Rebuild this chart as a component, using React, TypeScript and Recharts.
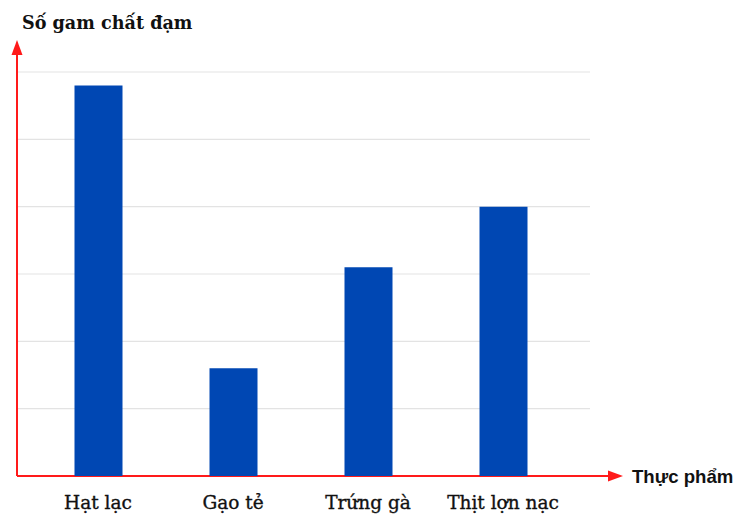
import React from 'react';
import { BarChart, Bar, XAxis, YAxis, CartesianGrid, usePlotArea } from 'recharts';

const categories = ['Hạt lạc', 'Gạo tẻ', 'Trứng gà', 'Thịt lợn nạc'];
const proteinGrams = [29, 8, 15.5, 20];
const yTicks = [0, 5, 10, 15, 20, 25, 30];
const yTitle = 'Số gam chất đạm';
const xTitle = 'Thực phẩm';

const data = categories.map((name, i) => ({ name, value: proteinGrams[i] }));

const RED = '#ff1a1a';

function Axes() {
  const plot = usePlotArea();
  if (!plot) return null;
  const left = plot.x;
  const bottom = plot.y + plot.height;
  const right = plot.x + plot.width;
  const top = plot.y;
  const xTip = right + 33;
  const yTip = top - 32;
  return (
    <g>
      <line x1={left} y1={bottom} x2={xTip - 12} y2={bottom} stroke={RED} strokeWidth={2} />
      <polygon points={`${xTip},${bottom} ${xTip - 15},${bottom - 5.5} ${xTip - 15},${bottom + 5.5}`} fill={RED} />
      <line x1={left} y1={bottom} x2={left} y2={yTip + 12} stroke={RED} strokeWidth={2} />
      <polygon points={`${left},${yTip} ${left - 5.5},${yTip + 15} ${left + 5.5},${yTip + 15}`} fill={RED} />
      <text x={left + 5} y={29} fontFamily="DejaVu Serif" fontWeight="bold" fontSize={17.6} fill="#111">{yTitle}</text>
      <text x={xTip + 9} y={bottom + 7} fontFamily="Liberation Sans" fontWeight="bold" fontSize={18.6} fill="#111">{xTitle}</text>
    </g>
  );
}

function Tick(props: any) {
  const { x, y, payload } = props;
  return (
    <text x={x} y={y + 25} textAnchor="middle" fontFamily="DejaVu Serif" fontSize={18.5} fill="#111" stroke="#111" strokeWidth={0.35}>
      {payload.value}
    </text>
  );
}

export default function App() {
  return (
    <div style={{ position: 'absolute', left: 0, top: 0, background: '#fff' }}>
      <BarChart width={754} height={521} data={data} margin={{ top: 72, right: 164, bottom: 15, left: 17 }}>
        <CartesianGrid vertical={false} stroke="#e3e3e3" strokeWidth={1.2} />
        <YAxis hide width={0} domain={[0, 30]} ticks={yTicks} />
        <XAxis dataKey="name" height={30} axisLine={false} tickLine={false} tick={<Tick />} padding={{ left: 13.5, right: 19.5 }} interval={0} />
        <Bar dataKey="value" fill="#0047b3" barSize={48} isAnimationActive={false} />
        <Axes />
      </BarChart>
    </div>
  );
}
